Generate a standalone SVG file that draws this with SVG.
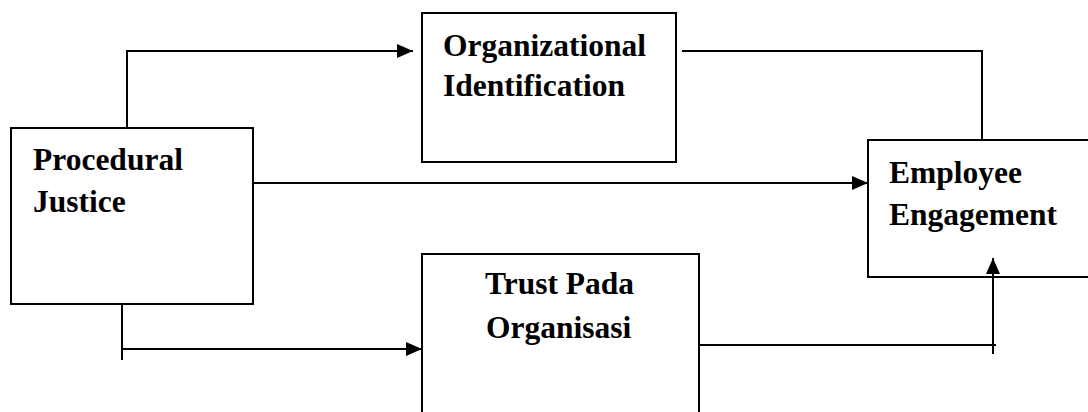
<svg xmlns="http://www.w3.org/2000/svg" width="1088" height="412" viewBox="0 0 1088 412">
  <style>
    .box { fill: #ffffff; stroke: #000000; stroke-width: 2; }
    .lbl { font-family: "Liberation Serif", "Times New Roman", serif; font-weight: bold; font-size: 31.5px; fill: #000000; }
    .con { fill: none; stroke: #000000; stroke-width: 2; }
  </style>
  <defs>
    <marker id="arr" markerUnits="userSpaceOnUse" markerWidth="16" markerHeight="14" viewBox="0 0 16 14" refX="16" refY="7" orient="auto">
      <path d="M0,0 L16,7 L0,14 Z" fill="#000000"/>
    </marker>
  </defs>
  <rect width="1088" height="412" fill="#ffffff"/>

  <g id="node-organizational-identification">
    <rect class="box" x="422" y="13" width="254" height="149"/>
    <text class="lbl" x="443" y="56">Organizational</text>
    <text class="lbl" x="443" y="96">Identification</text>
  </g>

  <g id="node-procedural-justice">
    <rect class="box" x="11" y="128" width="242" height="176"/>
    <text class="lbl" x="33" y="170">Procedural</text>
    <text class="lbl" x="33" y="212">Justice</text>
  </g>

  <g id="node-employee-engagement">
    <rect class="box" x="868" y="140" width="240" height="137"/>
    <text class="lbl" x="889" y="183">Employee</text>
    <text class="lbl" x="889" y="225">Engagement</text>
  </g>

  <g id="node-trust-pada-organisasi">
    <rect class="box" x="422" y="254" width="277" height="200"/>
    <text class="lbl" x="485" y="294">Trust Pada</text>
    <text class="lbl" x="486" y="338">Organisasi</text>
  </g>

  <g id="connectors">
    <path class="con" d="M127,128 V51 H413" marker-end="url(#arr)"/>
    <path class="con" d="M682,51 H982 V140"/>
    <path class="con" d="M253,183 H868" marker-end="url(#arr)"/>
    <path class="con" d="M122,304 V360"/>
    <path class="con" d="M122,349 H422" marker-end="url(#arr)"/>
    <path class="con" d="M699,345 H996"/>
    <path class="con" d="M993,354 V258" marker-end="url(#arr)"/>
  </g>
</svg>
